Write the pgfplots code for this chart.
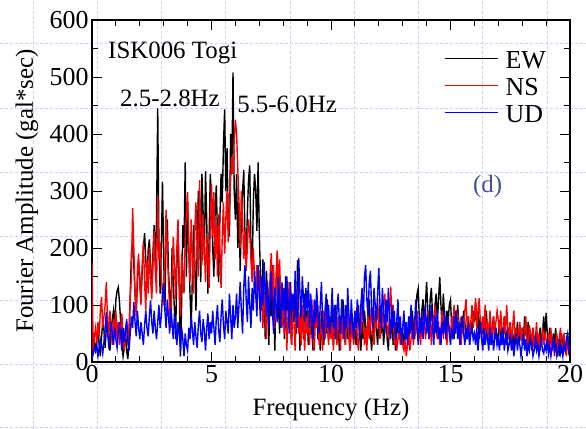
\documentclass[border=0pt]{standalone}
\usepackage{fontspec}
\setmainfont{Liberation Serif}
\usepackage{pgfplots}
\usepackage{pgfplotstable}
\pgfplotsset{compat=1.18}
\definecolor{bggrid}{RGB}{200,212,242}
\definecolor{dcol}{RGB}{72,78,152}

% EW, NS, UD Fourier amplitude spectra, sampled every 0.05 Hz (0 ... 20 Hz)
\pgfplotstableread[row sep=\\]{v\\
5\\20\\35\\15\\40\\60\\30\\10\\45\\70\\55\\25\\60\\80\\40\\20\\50\\75\\90\\60\\
110\\125\\131\\105\\70\\35\\10\\25\\60\\20\\5\\40\\120\\190\\215\\170\\120\\90\\140\\175\\
150\\110\\160\\200\\226\\180\\140\\195\\215\\170\\120\\190\\240\\170\\250\\445\\210\\120\\200\\316\\
180\\90\\220\\250\\160\\120\\60\\200\\140\\90\\40\\170\\230\\130\\10\\100\\240\\200\\350\\150\\
280\\200\\120\\60\\150\\240\\180\\90\\200\\300\\230\\140\\330\\260\\180\\335\\250\\120\\220\\330\\
280\\200\\150\\260\\310\\220\\140\\250\\330\\280\\380\\443\\300\\375\\250\\220\\400\\330\\508\\300\\
250\\330\\200\\280\\160\\250\\300\\337\\220\\180\\260\\320\\345\\200\\150\\280\\330\\300\\230\\350\\
226\\150\\90\\180\\120\\40\\160\\100\\30\\130\\80\\170\\110\\20\\140\\190\\100\\50\\130\\80\\
110\\40\\150\\90\\120\\60\\140\\30\\100\\70\\130\\50\\179\\90\\20\\110\\80\\40\\120\\60\\
90\\30\\70\\110\\50\\20\\80\\60\\100\\40\\70\\20\\90\\60\\30\\80\\50\\110\\40\\70\\
50\\90\\30\\60\\100\\40\\70\\20\\80\\50\\110\\60\\30\\90\\40\\70\\20\\60\\80\\40\\
60\\30\\80\\100\\50\\20\\70\\40\\90\\60\\30\\80\\110\\50\\20\\70\\40\\90\\60\\30\\
70\\100\\50\\80\\30\\60\\90\\40\\20\\70\\50\\80\\30\\60\\20\\50\\70\\40\\60\\30\\
50\\30\\70\\40\\60\\30\\80\\50\\90\\60\\40\\80\\120\\129\\70\\50\\90\\110\\60\\100\\
140\\90\\60\\110\\130\\80\\60\\100\\120\\70\\110\\149\\100\\60\\120\\80\\50\\90\\70\\100\\
109\\60\\80\\40\\90\\60\\100\\70\\30\\80\\50\\90\\70\\40\\60\\80\\30\\70\\50\\90\\
70\\105\\60\\90\\40\\80\\50\\70\\30\\60\\90\\50\\40\\70\\30\\60\\80\\40\\60\\30\\
50\\70\\30\\60\\40\\80\\50\\30\\60\\40\\70\\30\\50\\20\\60\\40\\70\\30\\50\\40\\
60\\30\\80\\50\\40\\70\\30\\50\\20\\60\\40\\30\\50\\20\\40\\60\\30\\50\\80\\40\\
86\\50\\30\\60\\40\\20\\50\\30\\60\\20\\40\\10\\30\\50\\20\\40\\25\\30\\50\\20\\30\\
}\ewtab

\pgfplotstableread[row sep=\\]{v\\
175\\20\\45\\60\\30\\70\\45\\90\\114\\60\\80\\100\\140\\70\\40\\90\\60\\30\\75\\50\\
90\\40\\70\\30\\60\\85\\40\\20\\50\\70\\30\\60\\110\\150\\270\\200\\120\\80\\160\\190\\
130\\100\\170\\210\\140\\90\\180\\120\\200\\150\\110\\170\\230\\160\\120\\293\\180\\210\\150\\120\\
100\\180\\267\\200\\140\\90\\60\\150\\220\\170\\110\\200\\250\\140\\80\\190\\160\\120\\220\\260\\
298\\200\\140\\250\\180\\120\\230\\280\\200\\150\\319\\240\\170\\260\\200\\140\\220\\180\\130\\240\\
313\\220\\298\\180\\240\\150\\260\\200\\130\\220\\280\\190\\250\\300\\210\\260\\320\\360\\330\\390\\
425\\400\\340\\280\\200\\300\\250\\180\\230\\160\\200\\250\\226\\180\\140\\200\\150\\110\\170\\130\\
160\\100\\140\\60\\120\\90\\40\\130\\70\\150\\191\\110\\170\\60\\140\\196\\120\\180\\100\\60\\
130\\50\\100\\20\\80\\140\\60\\30\\110\\70\\20\\90\\130\\50\\80\\30\\100\\60\\20\\80\\
50\\90\\30\\70\\110\\40\\20\\80\\60\\100\\30\\70\\50\\20\\90\\40\\110\\60\\30\\80\\
40\\70\\20\\90\\50\\30\\80\\60\\20\\100\\40\\70\\30\\60\\90\\40\\20\\70\\50\\30\\
60\\90\\40\\20\\70\\50\\110\\80\\30\\60\\20\\90\\40\\70\\100\\50\\30\\80\\60\\110\\
70\\40\\90\\60\\100\\120\\80\\60\\40\\90\\132\\70\\100\\30\\50\\20\\40\\60\\30\\50\\
30\\20\\40\\10\\30\\50\\20\\40\\60\\30\\80\\50\\90\\40\\60\\30\\70\\50\\80\\40\\
60\\90\\40\\70\\30\\80\\50\\100\\60\\40\\70\\30\\60\\90\\40\\80\\50\\30\\70\\60\\
40\\80\\60\\100\\50\\70\\90\\40\\60\\30\\80\\50\\90\\110\\60\\80\\40\\70\\100\\60\\
80\\112\\60\\90\\112\\70\\40\\80\\60\\100\\50\\70\\30\\90\\60\\40\\80\\50\\70\\90\\
74\\50\\90\\60\\30\\80\\50\\100\\60\\40\\70\\30\\60\\90\\40\\60\\30\\50\\70\\40\\
60\\30\\50\\80\\40\\20\\65\\50\\30\\60\\20\\40\\70\\30\\50\\20\\40\\60\\30\\50\\
40\\20\\50\\30\\60\\20\\40\\10\\30\\50\\20\\40\\60\\30\\20\\50\\30\\10\\40\\20\\30\\
}\nstab

\pgfplotstableread[row sep=\\]{v\\
5\\15\\25\\20\\30\\10\\25\\40\\30\\15\\35\\60\\88\\50\\30\\45\\70\\50\\30\\60\\
40\\25\\50\\70\\45\\20\\60\\35\\55\\75\\40\\20\\50\\80\\60\\105\\70\\45\\90\\60\\
40\\70\\50\\30\\65\\90\\60\\45\\80\\108\\70\\50\\90\\60\\40\\70\\100\\60\\80\\120\\
139\\90\\60\\110\\80\\50\\95\\70\\40\\85\\60\\30\\70\\50\\20\\60\\40\\10\\50\\30\\
20\\60\\40\\80\\55\\30\\70\\45\\25\\65\\90\\50\\35\\75\\55\\20\\60\\85\\40\\70\\
50\\90\\60\\30\\75\\100\\55\\35\\80\\110\\65\\40\\90\\70\\50\\120\\80\\40\\100\\60\\
80\\120\\60\\100\\140\\90\\50\\130\\170\\110\\70\\150\\100\\60\\130\\90\\160\\120\\80\\170\\
120\\70\\150\\100\\175\\130\\80\\140\\60\\110\\160\\90\\50\\130\\100\\70\\150\\110\\60\\140\\
90\\130\\60\\150\\110\\50\\140\\90\\120\\70\\160\\100\\60\\182\\120\\80\\150\\110\\70\\130\\
90\\140\\60\\120\\80\\40\\110\\70\\130\\90\\50\\100\\140\\70\\40\\90\\120\\60\\100\\50\\
80\\130\\60\\100\\40\\90\\120\\70\\50\\110\\80\\40\\100\\60\\130\\80\\50\\110\\70\\40\\
90\\60\\110\\80\\40\\100\\130\\70\\150\\170\\110\\80\\140\\160\\90\\60\\130\\100\\70\\120\\
165\\100\\60\\130\\90\\50\\110\\70\\130\\80\\40\\100\\60\\90\\40\\70\\110\\50\\80\\30\\
60\\90\\40\\70\\30\\80\\50\\100\\60\\40\\70\\110\\60\\30\\80\\50\\90\\40\\70\\100\\
50\\80\\40\\70\\100\\60\\30\\80\\50\\90\\40\\60\\30\\70\\50\\90\\40\\60\\80\\50\\
30\\60\\40\\80\\50\\90\\40\\70\\30\\60\\80\\50\\30\\60\\40\\70\\30\\50\\60\\40\\
50\\30\\60\\20\\50\\70\\40\\20\\60\\30\\50\\40\\20\\60\\30\\50\\20\\40\\60\\30\\
40\\20\\50\\30\\60\\20\\40\\50\\20\\30\\50\\20\\40\\10\\30\\50\\20\\40\\30\\10\\
30\\50\\20\\40\\10\\30\\20\\40\\30\\10\\20\\40\\20\\30\\10\\25\\40\\20\\15\\30\\
20\\40\\15\\30\\10\\25\\40\\20\\30\\10\\20\\35\\15\\25\\10\\30\\20\\40\\50\\20\\30\\
}\udtab

\begin{document}
\begin{tikzpicture}
\useasboundingbox (0,0) rectangle (586bp,429bp);
\begin{scope}[bggrid, dash pattern=on 3bp off 2bp, line width=0.8bp]
\foreach \x in {33,97.25,161.5,225.75,290,354.25,418.5,482.75,547}
  \draw (\x bp,0) -- (\x bp,429bp);
\foreach \y in {386,321,257,193,129,65,2}
  \draw (0,\y bp) -- (586bp,\y bp);
\end{scope}
\begin{axis}[
  at={(92bp,67bp)}, anchor=south west,
  scale only axis, width=478bp, height=342bp,
  xmin=0, xmax=20, ymin=0, ymax=600,
  xtick={0,5,10,15,20}, ytick={0,100,200,300,400,500,600},
  minor x tick num=4, minor y tick num=1,
  tick align=inside,
  major tick length=10bp, minor tick length=6bp,
  tick style={black, line width=1bp},
  axis line style={line width=1.5bp},
  /pgf/number format/assume math mode=true,
  tick label style={font=\fontsize{26}{28}\selectfont},
  label style={font=\fontsize{25}{28}\selectfont},
  xlabel={Frequency (Hz)},
  ylabel={Fourier Amplitude (gal*sec)},
  xlabel style={at={(axis description cs:0.5,-0.14)}, anchor=center},
  ylabel style={at={(axis description cs:-0.136,0.5)}, anchor=center},
  legend style={at={(rel axis cs:0.952,0.921)}, anchor=north east,
    draw=none, fill=none, inner sep=0pt,
    font=\fontsize{26}{28}\selectfont,
    nodes={inner sep=1bp, text height=20bp, text depth=0bp},
    row sep=5bp},
  legend cell align=left,
  legend image code/.code={\path[draw=none, fill=none] (0bp,-11bp) rectangle (60bp,11bp); \draw[#1, line width=1.3bp] (0bp,0bp) -- (53bp,0bp);},
]
\addplot[black, line width=1.4bp] table[x expr=\coordindex*0.05, y=v] {\ewtab};
\addlegendentry{EW}
\addplot[red, line width=1.4bp] table[x expr=\coordindex*0.05, y=v] {\nstab};
\addlegendentry{NS}
\addplot[blue, line width=1.4bp] table[x expr=\coordindex*0.05, y=v] {\udtab};
\addlegendentry{UD}
\node[anchor=base west, inner sep=0pt, font=\fontsize{25}{28}\selectfont] at (axis cs:0.67,533) {ISK006 Togi};
\node[anchor=base west, inner sep=0pt, font=\fontsize{25}{28}\selectfont] at (axis cs:1.17,449) {2.5-2.8Hz};
\node[anchor=base west, inner sep=0pt, font=\fontsize{25}{28}\selectfont] at (axis cs:6.07,437) {5.5-6.0Hz};
\node[anchor=base west, inner sep=0pt, text=dcol, font=\fontsize{25}{28}\selectfont] at (axis cs:15.94,298) {(d)};
\end{axis}
\end{tikzpicture}
\end{document}
